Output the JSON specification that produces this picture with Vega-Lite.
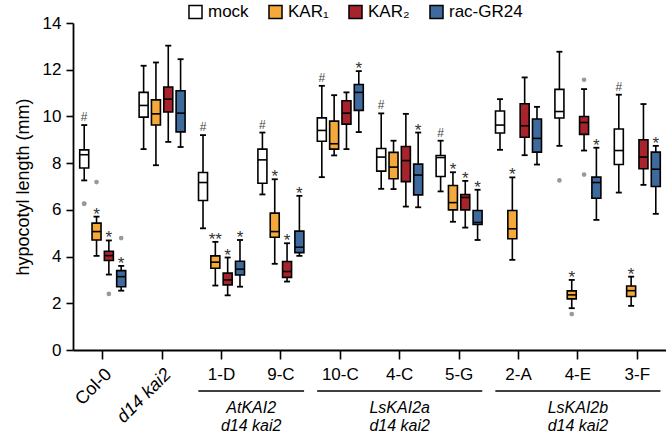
{
  "$schema": "https://vega.github.io/schema/vega-lite/v6.json",
  "width": 594,
  "height": 327,
  "autosize": {"type": "none"},
  "padding": {"left": 73, "top": 23, "right": 0, "bottom": 84},
  "config": {"font": "Liberation Sans", "view": {"stroke": null}, "axis": {"grid": false}},
  "datasets": {
    "boxes": [
      {"line": "Col-0", "trt": "mock", "min": 7.26, "q1": 7.79, "med": 8.36, "q3": 8.57, "max": 9.63, "sig": "#"},
      {"line": "Col-0", "trt": "KAR₁", "min": 4.03, "q1": 4.71, "med": 5.07, "q3": 5.43, "max": 5.71, "sig": "*"},
      {"line": "Col-0", "trt": "KAR₂", "min": 3.23, "q1": 3.83, "med": 4.04, "q3": 4.23, "max": 4.69, "sig": "*"},
      {"line": "Col-0", "trt": "rac-GR24", "min": 2.54, "q1": 2.71, "med": 3.14, "q3": 3.4, "max": 3.6, "sig": "*"},
      {"line": "d14 kai2", "trt": "mock", "min": 8.6, "q1": 9.97, "med": 10.47, "q3": 11.03, "max": 12.17},
      {"line": "d14 kai2", "trt": "KAR₁", "min": 7.91, "q1": 9.63, "med": 10.11, "q3": 10.71, "max": 12.31},
      {"line": "d14 kai2", "trt": "KAR₂", "min": 8.91, "q1": 10.19, "med": 10.74, "q3": 11.26, "max": 13.03},
      {"line": "d14 kai2", "trt": "rac-GR24", "min": 8.69, "q1": 9.34, "med": 10.14, "q3": 11.1, "max": 12.45},
      {"line": "1-D", "trt": "mock", "min": 5.21, "q1": 6.4, "med": 7.17, "q3": 7.6, "max": 9.2, "sig": "#"},
      {"line": "1-D", "trt": "KAR₁", "min": 2.76, "q1": 3.5, "med": 3.76, "q3": 4.03, "max": 4.63, "sig": "**"},
      {"line": "1-D", "trt": "KAR₂", "min": 2.34, "q1": 2.79, "med": 3.0, "q3": 3.29, "max": 3.96, "sig": "*"},
      {"line": "1-D", "trt": "rac-GR24", "min": 2.71, "q1": 3.21, "med": 3.46, "q3": 3.8, "max": 4.71, "sig": "*"},
      {"line": "9-C", "trt": "mock", "min": 6.66, "q1": 7.14, "med": 8.14, "q3": 8.6, "max": 9.31, "sig": "#"},
      {"line": "9-C", "trt": "KAR₁", "min": 3.69, "q1": 4.83, "med": 5.07, "q3": 5.86, "max": 7.31, "sig": "*"},
      {"line": "9-C", "trt": "KAR₂", "min": 2.93, "q1": 3.11, "med": 3.36, "q3": 3.79, "max": 4.57, "sig": "*"},
      {"line": "9-C", "trt": "rac-GR24", "min": 4.03, "q1": 4.17, "med": 4.4, "q3": 5.09, "max": 6.6, "sig": "*"},
      {"line": "10-C", "trt": "mock", "min": 7.4, "q1": 8.94, "med": 9.4, "q3": 9.94, "max": 11.31, "sig": "#"},
      {"line": "10-C", "trt": "KAR₁", "min": 8.33, "q1": 8.6, "med": 8.83, "q3": 9.8, "max": 10.91},
      {"line": "10-C", "trt": "KAR₂", "min": 8.6, "q1": 9.67, "med": 10.14, "q3": 10.67, "max": 11.03},
      {"line": "10-C", "trt": "rac-GR24", "min": 9.33, "q1": 10.26, "med": 11.03, "q3": 11.37, "max": 11.94, "sig": "*"},
      {"line": "4-C", "trt": "mock", "min": 6.9, "q1": 7.66, "med": 8.26, "q3": 8.63, "max": 10.13, "sig": "#"},
      {"line": "4-C", "trt": "KAR₁", "min": 6.89, "q1": 7.33, "med": 7.83, "q3": 8.46, "max": 8.96},
      {"line": "4-C", "trt": "KAR₂", "min": 6.14, "q1": 7.21, "med": 8.11, "q3": 8.71, "max": 10.11},
      {"line": "4-C", "trt": "rac-GR24", "min": 6.11, "q1": 6.64, "med": 7.49, "q3": 7.96, "max": 9.31, "sig": "*"},
      {"line": "5-G", "trt": "mock", "min": 6.79, "q1": 7.43, "med": 8.24, "q3": 8.33, "max": 8.96, "sig": "#"},
      {"line": "5-G", "trt": "KAR₁", "min": 5.49, "q1": 6.0, "med": 6.31, "q3": 7.04, "max": 7.61, "sig": "*"},
      {"line": "5-G", "trt": "KAR₂", "min": 5.24, "q1": 6.0, "med": 6.53, "q3": 6.66, "max": 7.24, "sig": "*"},
      {"line": "5-G", "trt": "rac-GR24", "min": 4.71, "q1": 5.37, "med": 5.46, "q3": 5.97, "max": 6.86, "sig": "*"},
      {"line": "2-A", "trt": "mock", "min": 8.57, "q1": 9.29, "med": 9.63, "q3": 10.23, "max": 10.74},
      {"line": "2-A", "trt": "KAR₁", "min": 3.86, "q1": 4.76, "med": 5.19, "q3": 5.97, "max": 7.39, "sig": "*"},
      {"line": "2-A", "trt": "KAR₂", "min": 8.34, "q1": 9.11, "med": 9.6, "q3": 10.54, "max": 11.67},
      {"line": "2-A", "trt": "rac-GR24", "min": 7.94, "q1": 8.47, "med": 9.06, "q3": 9.89, "max": 10.41},
      {"line": "4-E", "trt": "mock", "min": 8.74, "q1": 9.93, "med": 10.21, "q3": 11.16, "max": 12.77},
      {"line": "4-E", "trt": "KAR₁", "min": 1.79, "q1": 2.19, "med": 2.36, "q3": 2.53, "max": 3.0, "sig": "*"},
      {"line": "4-E", "trt": "KAR₂", "min": 8.54, "q1": 9.23, "med": 9.74, "q3": 10.0, "max": 11.17},
      {"line": "4-E", "trt": "rac-GR24", "min": 5.57, "q1": 6.5, "med": 7.17, "q3": 7.4, "max": 8.66, "sig": "*"},
      {"line": "3-F", "trt": "mock", "min": 6.74, "q1": 7.94, "med": 8.54, "q3": 9.46, "max": 10.93, "sig": "#"},
      {"line": "3-F", "trt": "KAR₁", "min": 1.89, "q1": 2.29, "med": 2.54, "q3": 2.74, "max": 3.14, "sig": "*"},
      {"line": "3-F", "trt": "KAR₂", "min": 7.07, "q1": 7.76, "med": 8.26, "q3": 9.0, "max": 10.53},
      {"line": "3-F", "trt": "rac-GR24", "min": 5.83, "q1": 7.0, "med": 7.74, "q3": 8.47, "max": 8.74, "sig": "*"}
    ],
    "outliers": [
      {"line": "Col-0", "trt": "mock", "v": 6.26},
      {"line": "Col-0", "trt": "mock", "v": 6.27},
      {"line": "Col-0", "trt": "KAR₁", "v": 7.19},
      {"line": "Col-0", "trt": "KAR₂", "v": 2.4},
      {"line": "Col-0", "trt": "rac-GR24", "v": 4.79},
      {"line": "4-E", "trt": "mock", "v": 7.26},
      {"line": "4-E", "trt": "KAR₁", "v": 1.54},
      {"line": "4-E", "trt": "KAR₂", "v": 11.57},
      {"line": "4-E", "trt": "KAR₂", "v": 7.51}
    ],
    "groups": [
      {"start": "1-D", "end": "9-C", "mid": "1-D", "n": 2, "label": "AtKAI2\nd14 kai2"},
      {"start": "10-C", "end": "5-G", "mid": "4-C", "n": 3, "label": "LsKAI2a\nd14 kai2"},
      {"start": "2-A", "end": "3-F", "mid": "4-E", "n": 3, "label": "LsKAI2b\nd14 kai2"}
    ]
  },
  "layer": [
    {
      "data": {"name": "boxes"},
      "encoding": {
        "x": {
          "field": "line", "type": "nominal",
          "scale": {"domain": ["Col-0", "d14 kai2", "1-D", "9-C", "10-C", "4-C", "5-G", "2-A", "4-E", "3-F"], "paddingInner": 0, "paddingOuter": 0},
          "axis": {
            "title": null, "labels": false, "domainColor": "black", "domainWidth": 1.8, "tickColor": "black", "tickWidth": 1.6, "tickSize": 9
          }
        },
        "xOffset": {"field": "trt", "type": "nominal", "scale": {"domain": ["mock", "KAR₁", "KAR₂", "rac-GR24"], "paddingInner": 0, "paddingOuter": 0.41}}
      },
      "layer": [
        {
          "mark": {"type": "rule", "color": "black", "strokeWidth": 1.6},
          "encoding": {
            "y": {"field": "min", "type": "quantitative", "scale": {"domain": [0, 14], "nice": false},
              "axis": {"title": "hypocotyl length (mm)", "values": [0, 2, 4, 6, 8, 10, 12, 14], "domainColor": "black", "domainWidth": 1.8,
                "tickColor": "black", "tickWidth": 1.6, "tickSize": 7, "labelFontSize": 17, "labelColor": "black", "labelPadding": 5,
                "titleFontSize": 18, "titleFontWeight": "normal", "titleColor": "black", "titlePadding": 10}},
            "y2": {"field": "max"}
          }
        },
        {"mark": {"type": "tick", "orient": "horizontal", "size": 6, "thickness": 1.8, "color": "black", "opacity": 1}, "encoding": {"y": {"field": "min", "type": "quantitative"}}},
        {"mark": {"type": "tick", "orient": "horizontal", "size": 6, "thickness": 1.8, "color": "black", "opacity": 1}, "encoding": {"y": {"field": "max", "type": "quantitative"}}},
        {
          "mark": {"type": "bar", "size": 9, "stroke": "black", "strokeWidth": 1.6, "opacity": 1},
          "encoding": {
            "y": {"field": "q1", "type": "quantitative"},
            "y2": {"field": "q3"},
            "color": {"field": "trt", "type": "nominal",
              "scale": {"domain": ["mock", "KAR₁", "KAR₂", "rac-GR24"], "range": ["#ffffff", "#F5A93B", "#A8242C", "#3E6A9E"]},
              "legend": {"title": null, "orient": "none", "legendX": 114, "legendY": -20, "direction": "horizontal",
                "symbolType": "square", "symbolSize": 170, "symbolStrokeColor": "black", "symbolStrokeWidth": 1.5, "symbolOpacity": 1,
                "labelFontSize": 17, "labelColor": "black", "labelOffset": 4, "columnPadding": 16}}
          }
        },
        {"mark": {"type": "tick", "orient": "horizontal", "size": 9, "thickness": 1.6, "color": "black", "opacity": 1}, "encoding": {"y": {"field": "med", "type": "quantitative"}}},
        {
          "transform": [{"filter": "datum.sig === '#'"}],
          "mark": {"type": "text", "fontSize": 12, "baseline": "middle", "dy": -8, "color": "#444444"},
          "encoding": {"y": {"field": "max", "type": "quantitative"}, "text": {"field": "sig"}}
        },
        {
          "transform": [{"filter": "datum.sig && datum.sig !== '#'"}],
          "mark": {"type": "text", "fontSize": 17, "baseline": "middle", "dy": -2, "color": "#333333"},
          "encoding": {"y": {"field": "max", "type": "quantitative"}, "text": {"field": "sig"}}
        }
      ]
    },
    {
      "data": {"name": "boxes"},
      "transform": [{"filter": "datum.trt === 'mock' && datum.line !== 'Col-0' && datum.line !== 'd14 kai2'"}],
      "mark": {"type": "text", "fontSize": 17, "baseline": "top", "align": "center", "color": "black"},
      "encoding": {
        "x": {"field": "line", "type": "nominal"},
        "y": {"datum": -0.729},
        "text": {"field": "line"}
      }
    },
    {
      "data": {"name": "boxes"},
      "transform": [{"filter": "datum.trt === 'mock' && datum.line === 'Col-0'"}],
      "mark": {"type": "text", "fontSize": 18, "baseline": "middle", "align": "right", "angle": -45, "dy": 8, "dx": 1, "color": "black"},
      "encoding": {
        "x": {"field": "line", "type": "nominal"},
        "y": {"datum": -0.729},
        "text": {"field": "line"}
      }
    },
    {
      "data": {"name": "boxes"},
      "transform": [{"filter": "datum.trt === 'mock' && datum.line === 'd14 kai2'"}],
      "mark": {"type": "text", "fontSize": 18, "fontStyle": "italic", "baseline": "middle", "align": "right", "angle": -45, "dy": 8, "dx": 1, "color": "black"},
      "encoding": {
        "x": {"field": "line", "type": "nominal"},
        "y": {"datum": -0.729},
        "text": {"field": "line"}
      }
    },
    {
      "data": {"name": "outliers"},
      "mark": {"type": "point", "filled": true, "color": "#999999", "size": 22, "opacity": 1},
      "encoding": {
        "x": {"field": "line", "type": "nominal"},
        "xOffset": {"field": "trt", "type": "nominal"},
        "y": {"field": "v", "type": "quantitative"}
      }
    },
    {
      "data": {"name": "groups"},
      "mark": {"type": "rule", "color": "black", "strokeWidth": 1.5},
      "encoding": {
        "x": {"field": "start", "type": "nominal", "bandPosition": 0.11},
        "x2": {"field": "end", "bandPosition": 0.89},
        "y": {"datum": -1.757}
      }
    },
    {
      "data": {"name": "groups"},
      "transform": [{"filter": "datum.n === 2"}],
      "mark": {"type": "text", "fontSize": 16, "fontStyle": "italic", "lineBreak": "\n", "lineHeight": 18, "baseline": "top", "align": "center", "color": "black"},
      "encoding": {
        "x": {"field": "mid", "type": "nominal", "bandPosition": 1},
        "y": {"datum": -2.16},
        "text": {"field": "label"}
      }
    },
    {
      "data": {"name": "groups"},
      "transform": [{"filter": "datum.n === 3"}],
      "mark": {"type": "text", "fontSize": 16, "fontStyle": "italic", "lineBreak": "\n", "lineHeight": 18, "baseline": "top", "align": "center", "color": "black"},
      "encoding": {
        "x": {"field": "mid", "type": "nominal", "bandPosition": 0.5},
        "y": {"datum": -2.16},
        "text": {"field": "label"}
      }
    }
  ]
}
